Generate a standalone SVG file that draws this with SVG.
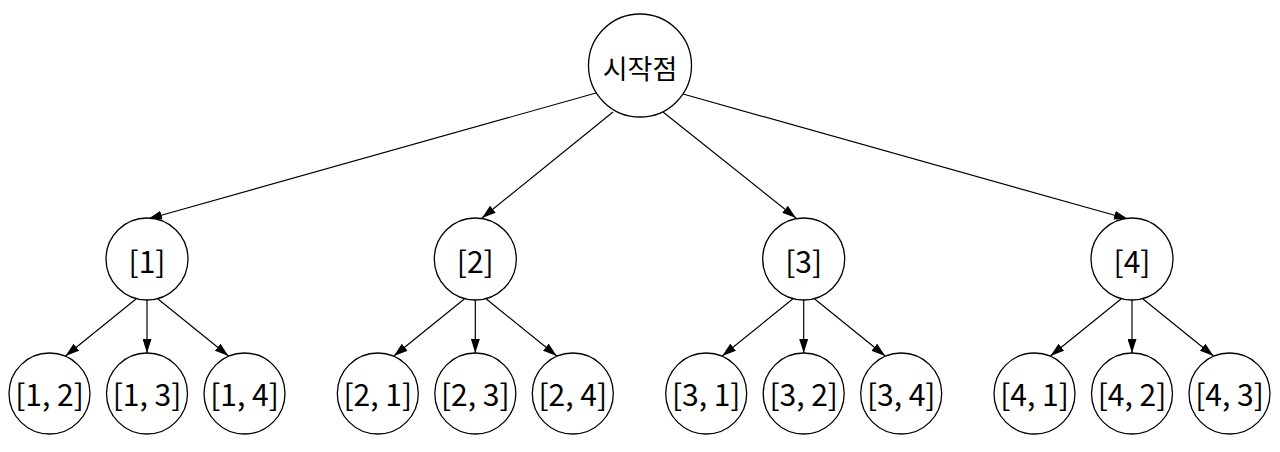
<svg xmlns="http://www.w3.org/2000/svg" width="1280" height="452" viewBox="0 0 1280 452">
<style>
.n{fill:#fff;stroke:#000;stroke-width:1.3}
.t{font-family:"Noto Sans CJK KR","Noto Sans",sans-serif;font-size:30px;fill:#000;text-anchor:middle;dominant-baseline:central}
.r{font-size:27px}
.e{stroke:#000;stroke-width:1.2;fill:none;marker-end:url(#a)}
</style>
<defs>
<marker id="a" markerUnits="userSpaceOnUse" markerWidth="14" markerHeight="9" refX="14" refY="4.5" orient="auto">
<path d="M0,0 L14,4.5 L0,9 z" fill="#000"/>
</marker>
</defs>
<rect width="1280" height="452" fill="#fff"/>
<g id="edges">
<line class="e" x1="596" y1="93" x2="148" y2="219"/>
<line class="e" x1="613" y1="112" x2="482" y2="218"/>
<line class="e" x1="663" y1="112" x2="796" y2="218"/>
<line class="e" x1="683" y1="94" x2="1128" y2="219"/>
<line class="e" x1="136" y1="299" x2="65.5" y2="356"/>
<line class="e" x1="147" y1="300" x2="147" y2="353"/>
<line class="e" x1="158" y1="299" x2="228.5" y2="356"/>
<line class="e" x1="464.3" y1="299" x2="393.8" y2="356"/>
<line class="e" x1="475.3" y1="300" x2="475.3" y2="353"/>
<line class="e" x1="486.3" y1="299" x2="556.8" y2="356"/>
<line class="e" x1="792.7" y1="299" x2="722.2" y2="356"/>
<line class="e" x1="803.7" y1="300" x2="803.7" y2="353"/>
<line class="e" x1="814.7" y1="299" x2="885.2" y2="356"/>
<line class="e" x1="1121" y1="299" x2="1050.5" y2="356"/>
<line class="e" x1="1132" y1="300" x2="1132" y2="353"/>
<line class="e" x1="1143" y1="299" x2="1213.5" y2="356"/>
</g>
<g id="root"><circle class="n" cx="640" cy="65.5" r="51.5"/><text class="t r" x="640" y="67">시작점</text></g>
<g id="n1"><circle class="n" cx="147" cy="259" r="41"/><text class="t" x="147" y="260">[1]</text></g>
<g id="n2"><circle class="n" cx="475.3" cy="259" r="41"/><text class="t" x="475.3" y="260">[2]</text></g>
<g id="n3"><circle class="n" cx="803.7" cy="259" r="41"/><text class="t" x="803.7" y="260">[3]</text></g>
<g id="n4"><circle class="n" cx="1132" cy="259" r="41"/><text class="t" x="1132" y="260">[4]</text></g>
<g id="n12"><circle class="n" cx="49.5" cy="393.5" r="40.5"/><text class="t" x="49.5" y="393">[1, 2]</text></g>
<g id="n13"><circle class="n" cx="147" cy="393.5" r="40.5"/><text class="t" x="147" y="393">[1, 3]</text></g>
<g id="n14"><circle class="n" cx="244.5" cy="393.5" r="40.5"/><text class="t" x="244.5" y="393">[1, 4]</text></g>
<g id="n21"><circle class="n" cx="377.8" cy="393.5" r="40.5"/><text class="t" x="377.8" y="393">[2, 1]</text></g>
<g id="n23"><circle class="n" cx="475.3" cy="393.5" r="40.5"/><text class="t" x="475.3" y="393">[2, 3]</text></g>
<g id="n24"><circle class="n" cx="572.8" cy="393.5" r="40.5"/><text class="t" x="572.8" y="393">[2, 4]</text></g>
<g id="n31"><circle class="n" cx="706.2" cy="393.5" r="40.5"/><text class="t" x="706.2" y="393">[3, 1]</text></g>
<g id="n32"><circle class="n" cx="803.7" cy="393.5" r="40.5"/><text class="t" x="803.7" y="393">[3, 2]</text></g>
<g id="n34"><circle class="n" cx="901.2" cy="393.5" r="40.5"/><text class="t" x="901.2" y="393">[3, 4]</text></g>
<g id="n41"><circle class="n" cx="1034.5" cy="393.5" r="40.5"/><text class="t" x="1034.5" y="393">[4, 1]</text></g>
<g id="n42"><circle class="n" cx="1132" cy="393.5" r="40.5"/><text class="t" x="1132" y="393">[4, 2]</text></g>
<g id="n43"><circle class="n" cx="1229.5" cy="393.5" r="40.5"/><text class="t" x="1229.5" y="393">[4, 3]</text></g>
</svg>
